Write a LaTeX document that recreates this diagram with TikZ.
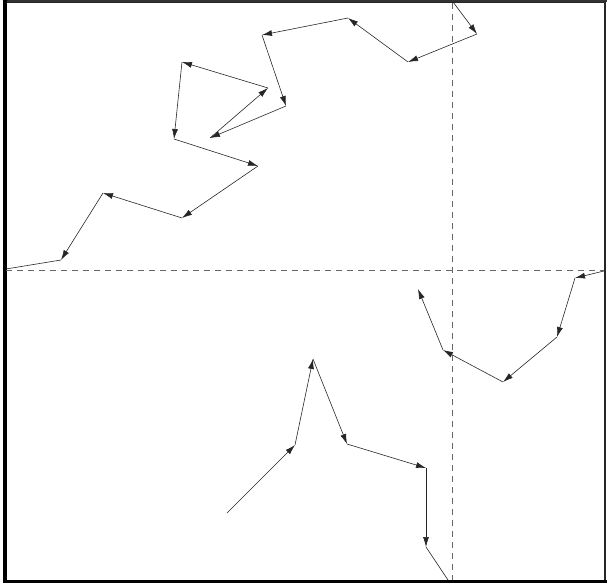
\documentclass[tikz,border=0pt]{standalone}
\usetikzlibrary{arrows.meta}
\begin{document}
\begin{tikzpicture}[x=1pt,y=-1pt,
  walk/.style={draw=black!85,line width=0.6pt,-{Latex[length=10pt,width=6pt]}},
  walkend/.style={draw=black!85,line width=0.6pt},
  axis/.style={draw=black!60,line width=0.6pt,dash pattern=on 6pt off 5pt}]
\useasboundingbox (0,0) rectangle (609,585);
% frame
\draw[line width=1.6pt,black!85] (5,2) rectangle (605,581);
\draw[line width=2.5pt,black!80] (3,1.2) -- (607,1.2);
\draw[line width=3.5pt,black] (5,0) -- (5,583);
\draw[line width=3pt,black] (3,581.5) -- (607,581.5);
% dashed axes
\coordinate (hl) at (6,270);
\coordinate (hr) at (604,270);
\coordinate (vt) at (452,3);
\coordinate (vb) at (452,580);
\draw[axis] (hl) -- (hr);
\draw[axis] (vt) -- (vb);
% walk points
\coordinate (p0) at (227,513);
\coordinate (p1) at (295,445);
\coordinate (p2) at (313,359);
\coordinate (p3) at (347,444);
\coordinate (p4) at (426,468);
\coordinate (p5) at (426,547);
\coordinate (b1) at (448,580);
\coordinate (t1) at (453,2);
\coordinate (p7) at (477,34);
\coordinate (p8) at (408,62);
\coordinate (p9) at (348,18);
\coordinate (p10) at (262,35);
\coordinate (p11) at (286,106);
\coordinate (p12) at (210,138);
\coordinate (p13) at (268,88);
\coordinate (p14) at (182,62);
\coordinate (p15) at (174,139);
\coordinate (p16) at (258,166);
\coordinate (p17) at (182,218);
\coordinate (p18) at (103,193);
\coordinate (p19) at (61,260);
\coordinate (l1) at (6,269);
\coordinate (r1) at (604,271);
\coordinate (p20) at (575,278);
\coordinate (p21) at (557,337);
\coordinate (p22) at (503,382);
\coordinate (p23) at (443,350);
\coordinate (p24) at (418,289);
% walk segments
\draw[walk] (p0) -- (p1);
\draw[walk] (p1) -- (p2);
\draw[walk] (p2) -- (p3);
\draw[walk] (p3) -- (p4);
\draw[walk] (p4) -- (p5);
\draw[walkend] (p5) -- (b1);
\draw[walk] (t1) -- (p7);
\draw[walk] (p7) -- (p8);
\draw[walk] (p8) -- (p9);
\draw[walk] (p9) -- (p10);
\draw[walk] (p10) -- (p11);
\draw[walk] (p11) -- (p12);
\draw[walk] (p12) -- (p13);
\draw[walk] (p13) -- (p14);
\draw[walk] (p14) -- (p15);
\draw[walk] (p15) -- (p16);
\draw[walk] (p16) -- (p17);
\draw[walk] (p17) -- (p18);
\draw[walk] (p18) -- (p19);
\draw[walkend] (p19) -- (l1);
\draw[walk] (r1) -- (p20);
\draw[walk] (p20) -- (p21);
\draw[walk] (p21) -- (p22);
\draw[walk] (p22) -- (p23);
\draw[walk] (p23) -- (p24);
\end{tikzpicture}
\end{document}
